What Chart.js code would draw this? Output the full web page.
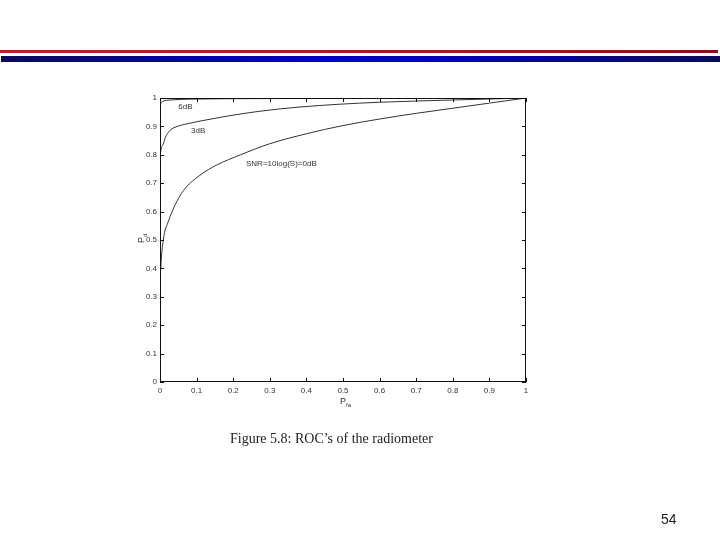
<!DOCTYPE html>
<html>
<head>
<meta charset="utf-8">
<style>
  html, body { margin: 0; padding: 0; background: #fff; }
  #page { position: relative; width: 720px; height: 540px; overflow: hidden; }
  .bar-red { position: absolute; left: 0; top: 50px; width: 718px; height: 3px;
    background: linear-gradient(to right, #b3242a, #9a1c1c 60%, #7e1414); }
  .bar-blue { position: absolute; left: 1px; top: 56px; width: 719px; height: 6px;
    background: linear-gradient(to right, #0a0a5a, #0000c8 50%, #0a0a5a); }
  #chart { position: absolute; left: 0; top: 0; }
  .caption { position: absolute; left: 230px; top: 431px; font-family: "Liberation Serif", "DejaVu Serif", serif;
    font-size: 14px; color: #222; }
  .pageno { position: absolute; left: 661px; top: 511px; font-family: "Liberation Sans", Arial, sans-serif;
    font-size: 14px; color: #222; }
</style>
</head>
<body>
<div id="page">
  <div class="bar-red"></div>
  <div class="bar-blue"></div>
  <canvas id="chart" width="720" height="540"></canvas>
  <div class="caption">Figure 5.8: ROC’s of the radiometer</div>
  <div class="pageno">54</div>
</div>
<script src="https://cdn.jsdelivr.net/npm/chart.js@4/dist/chart.umd.min.js"></script>
<script>
// values (Pfa -> Pd)
const pfa0 = [0, 0.0005, 0.002, 0.009, 0.023, 0.04, 0.064, 0.109, 0.155, 0.22, 0.3, 0.4, 0.5, 0.6, 0.7, 0.8, 0.9, 1];
const pd0  = [0, 0.30, 0.40, 0.50, 0.566, 0.62, 0.674, 0.728, 0.764, 0.80, 0.839, 0.874, 0.903, 0.926, 0.946, 0.964, 0.982, 1];

const pfa3 = [0, 0.0003, 0.001, 0.009, 0.015, 0.023, 0.03, 0.041, 0.077, 0.123, 0.178, 0.27, 0.38, 0.49, 0.6, 0.8, 1];
const pd3  = [0, 0.72, 0.80, 0.838, 0.862, 0.879, 0.889, 0.897, 0.91, 0.922, 0.935, 0.953, 0.968, 0.978, 0.985, 0.993, 1];

const pfa6 = [0, 0.0002, 0.001, 0.008, 0.03, 0.08, 0.3, 1];
const pd6  = [0, 0.90, 0.975, 0.988, 0.993, 0.996, 0.998, 1];

const xTicks = [0, 0.1, 0.2, 0.3, 0.4, 0.5, 0.6, 0.7, 0.8, 0.9, 1];
const yTicks = [0, 0.1, 0.2, 0.3, 0.4, 0.5, 0.6, 0.7, 0.8, 0.9, 1];

const curveLabels = [
  { text: '6dB', x: 0.05, y: 0.97 },
  { text: '3dB', x: 0.085, y: 0.885 },
  { text: 'SNR=10log(S)=0dB', x: 0.235, y: 0.77 }
];

function pts(xs, ys) {
  return xs.map((x, i) => ({ x, y: ys[i] }));
}

function curve(xs, ys) {
  return {
    data: pts(xs, ys),
    showLine: true,
    borderColor: '#333',
    borderWidth: 1,
    pointRadius: 0,
    cubicInterpolationMode: 'monotone'
  };
}

const tickFont = { family: '"Liberation Sans", Arial, sans-serif', size: 8 };

// MATLAB style box with inward ticks on all four sides, plus text annotations
const boxPlugin = {
  id: 'box',
  afterDatasetsDraw(chart) {
    const { ctx, chartArea: a, scales } = chart;
    ctx.save();
    ctx.strokeStyle = '#111';
    ctx.lineWidth = 1;
    ctx.strokeRect(a.left + 0.5, a.top + 0.5, a.right - a.left - 1, a.bottom - a.top - 1);
    ctx.beginPath();
    xTicks.forEach(v => {
      const px = Math.round(scales.x.getPixelForValue(v)) + 0.5;
      ctx.moveTo(px, a.bottom); ctx.lineTo(px, a.bottom - 4);
      ctx.moveTo(px, a.top); ctx.lineTo(px, a.top + 4);
    });
    yTicks.forEach(v => {
      const py = Math.round(scales.y.getPixelForValue(v)) + 0.5;
      ctx.moveTo(a.left, py); ctx.lineTo(a.left + 4, py);
      ctx.moveTo(a.right, py); ctx.lineTo(a.right - 4, py);
    });
    ctx.stroke();

    ctx.fillStyle = '#333';
    ctx.font = '8px "Liberation Sans", Arial, sans-serif';
    ctx.textBaseline = 'middle';
    curveLabels.forEach(l => {
      ctx.fillText(l.text, scales.x.getPixelForValue(l.x), scales.y.getPixelForValue(l.y));
    });

    // axis titles P_fa and P_d
    ctx.font = '9px "Liberation Sans", Arial, sans-serif';
    ctx.textBaseline = 'alphabetic';
    const xl = scales.x.getPixelForValue(0.5) - 3;
    ctx.fillText('P', xl, 404);
    ctx.font = '6px "Liberation Sans", Arial, sans-serif';
    ctx.fillText('fa', xl + 6, 407);

    ctx.translate(144, scales.y.getPixelForValue(0.5));
    ctx.rotate(-Math.PI / 2);
    ctx.font = '9px "Liberation Sans", Arial, sans-serif';
    ctx.fillText('P', -3, 0);
    ctx.font = '6px "Liberation Sans", Arial, sans-serif';
    ctx.fillText('d', 3, 3);
    ctx.restore();
  }
};

new Chart(document.getElementById('chart'), {
  type: 'scatter',
  data: {
    datasets: [curve(pfa0, pd0), curve(pfa3, pd3), curve(pfa6, pd6)]
  },
  options: {
    responsive: false,
    animation: false,
    layout: { padding: { left: 130, right: 194, top: 98, bottom: 130 } },
    plugins: { legend: { display: false }, tooltip: { enabled: false } },
    scales: {
      x: {
        type: 'linear', min: 0, max: 1,
        afterBuildTicks: s => { s.ticks = xTicks.map(v => ({ value: v })); },
        afterFit: s => { s.height = 28; },
        grid: { display: false, drawTicks: false },
        border: { display: false },
        ticks: { font: tickFont, color: '#333', padding: 4, maxRotation: 0,
          callback: v => String(v) }
      },
      y: {
        type: 'linear', min: 0, max: 1,
        afterBuildTicks: s => { s.ticks = yTicks.map(v => ({ value: v })); },
        afterFit: s => { s.width = 30; },
        grid: { display: false, drawTicks: false },
        border: { display: false },
        ticks: { font: tickFont, color: '#333', padding: 3,
          callback: v => String(v) }
      }
    }
  },
  plugins: [boxPlugin]
});
</script>
</body>
</html>
